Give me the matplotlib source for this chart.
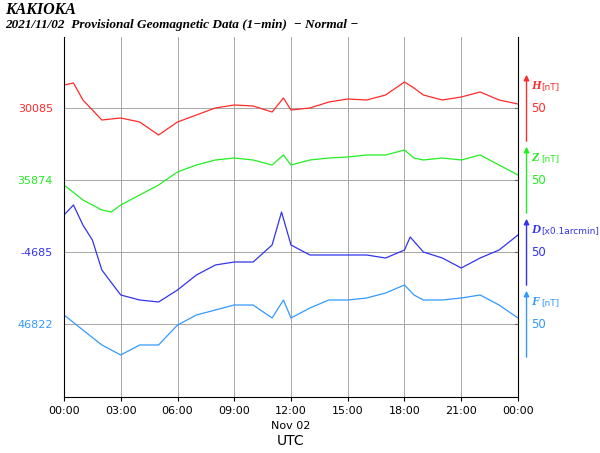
import matplotlib.pyplot as plt
import numpy as np

# hours and offsets (nT), relative to each baseline
hours_h = [0, 0.5, 1, 2, 3, 4, 5, 6, 7, 8, 9, 10, 11, 11.6, 12, 13, 14, 15, 16, 17, 18, 18.5, 19, 20, 21, 22, 23, 24]
h_px = [85, 83, 100, 120, 118, 122, 135, 122, 115, 108, 105, 106, 112, 98, 110, 108, 102, 99, 100, 95, 82, 88, 95, 100, 97, 92, 100, 104]

hours_z = [0, 1, 2, 2.5, 3, 4, 5, 6, 7, 8, 9, 10, 11, 11.6, 12, 13, 14, 15, 16, 17, 18, 18.5, 19, 20, 21, 22, 23, 24]
z_px = [185, 200, 210, 212, 205, 195, 185, 172, 165, 160, 158, 160, 165, 155, 165, 160, 158, 157, 155, 155, 150, 158, 160, 158, 160, 155, 165, 175]

hours_d = [0, 0.5, 1, 1.5, 2, 3, 4, 5, 6, 7, 8, 9, 10, 11, 11.5, 12, 13, 14, 15, 16, 17, 18, 18.3, 19, 20, 21, 22, 23, 24]
d_px = [215, 205, 225, 240, 270, 295, 300, 302, 290, 275, 265, 262, 262, 245, 212, 245, 255, 255, 255, 255, 258, 250, 237, 252, 258, 268, 258, 250, 235]

hours_f = [0, 1, 2, 3, 4, 5, 6, 7, 8, 9, 10, 11, 11.6, 12, 13, 14, 15, 16, 17, 18, 18.5, 19, 20, 21, 22, 23, 24]
f_px = [315, 330, 345, 355, 345, 345, 325, 315, 310, 305, 305, 318, 300, 318, 308, 300, 300, 298, 293, 285, 295, 300, 300, 298, 295, 305, 318]

components = ["H", "Z", "D", "F"]
baselines = ["30085", "35874", "-4685", "46822"]
units = ["[nT]", "[nT]", "[x0.1arcmin]", "[nT]"]
colors = ["#ff2a2a", "#22ee22", "#3333ee", "#3399ff"]
grid_px = [108, 180, 252, 324]
offsets = [150, 100, 50, 0]

px_per_unit = 72 / 50


def to_units(px_list, grid, base):
    return [base + (grid - p) / px_per_unit for p in px_list]


fig = plt.figure(figsize=(6, 4.53), dpi=100)
ax = fig.add_axes([64 / 600, 56 / 453, 454 / 600, 360 / 453])

series = [(hours_h, h_px), (hours_z, z_px), (hours_d, d_px), (hours_f, f_px)]
for (hrs, px), grid, base, col in zip(series, grid_px, offsets, colors):
    ax.plot(hrs, to_units(px, grid, base), color=col, lw=0.9)

ymin = -(397 - 324) / px_per_unit
ymax = 150 + (108 - 37) / px_per_unit
ax.set_xlim(0, 24)
ax.set_ylim(ymin, ymax)
ax.set_xticks(range(0, 25, 3))
ax.set_xticklabels([f"{h % 24:02d}:00" for h in range(0, 25, 3)], fontsize=8)
ax.set_yticks(offsets)
ax.set_yticklabels(baselines, fontsize=8)
for lab, col in zip(ax.get_yticklabels(), colors):
    lab.set_color(col)
ax.tick_params(axis="y", length=0, pad=8)
ax.tick_params(axis="x", direction="out", length=3)
ax.grid(True, color="#999999", lw=0.6)
ax.spines["top"].set_visible(False)
ax.text(12, ymin - 17, "Nov 02", ha="center", va="top", fontsize=8)
ax.text(12, ymin - 26, "UTC", ha="center", va="top", fontsize=10)

# right-hand scale arrows
for comp, unit, col, base in zip(components, units, colors, offsets):
    ax.annotate("", xy=(24.45, base + 25), xytext=(24.45, base - 25),
                xycoords="data", textcoords="data", annotation_clip=False,
                arrowprops=dict(arrowstyle="-|>", color=col, lw=1, mutation_scale=8))
    ax.plot([23.85, 24], [base, base], color="#666666", lw=0.8, clip_on=False)
    ax.text(24.7, base, "50", color=col, fontsize=8.5, va="center", ha="left")
    ax.text(24.7, base + 15, comp, color=col, fontsize=9, va="center", ha="left",
            family="Liberation Serif", style="italic", weight="bold")
    ax.text(25.25, base + 15, unit, color=col, fontsize=6.5, va="center", ha="left")

fig.text(5 / 600, 1 - 10 / 453, "KAKIOKA", fontsize=11.5, family="Liberation Serif",
         style="italic", weight="bold", va="center")
fig.text(5 / 600, 1 - 25 / 453, "2021/11/02  Provisional Geomagnetic Data (1\u2212min)  \u2212 Normal \u2212",
         fontsize=9.5, family="Liberation Serif", style="italic", weight="bold", va="center")

fig.savefig("out.png", dpi=100)
